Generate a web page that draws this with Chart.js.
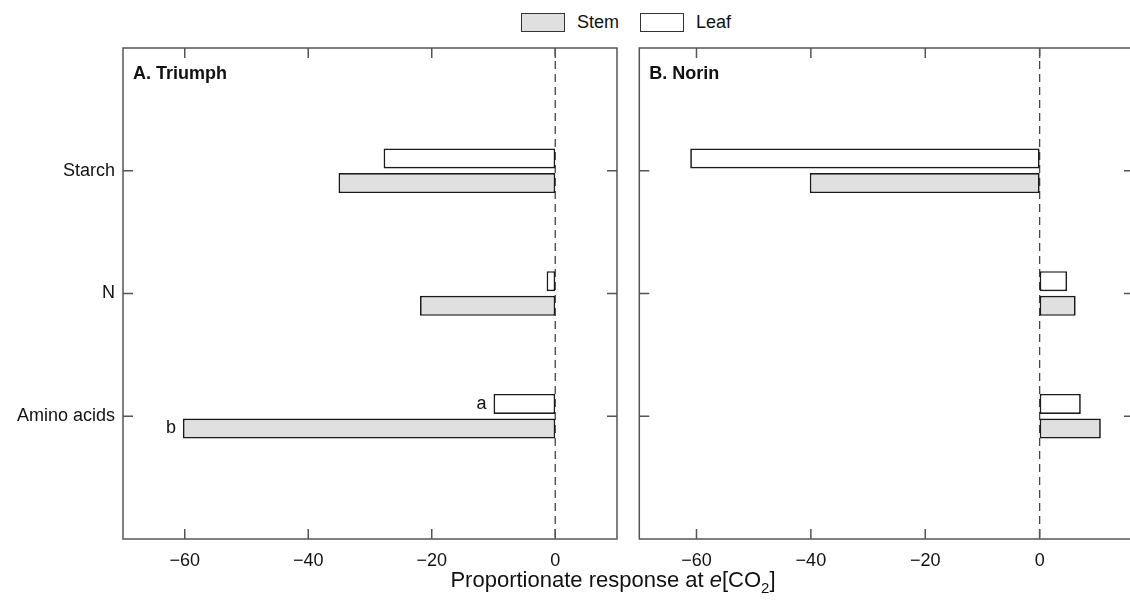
<!DOCTYPE html>
<html>
<head>
  <meta charset="UTF-8">
  <title>Proportionate response at e[CO2]</title>
  <script src="https://cdn.jsdelivr.net/npm/chart.js"></script>
  <style>
    body { margin: 0; width: 1130px; height: 606px; overflow: hidden; background: #fff;
           position: relative; font-family: "Liberation Sans", Arial, sans-serif; color: #111; }
    .panel { position: absolute; top: 0; height: 606px; }
    .box { position: absolute; top: 13px; width: 42px; height: 17px; border: 1.3px solid #333; }
    .lab { position: absolute; top: 12px; font-size: 18px; line-height: 20px; }
    #xtitle { position: absolute; left: 613px; top: 567px; transform: translateX(-50%);
              font-size: 22px; line-height: 26px; white-space: nowrap; }
    #xtitle .sub { font-size: 15px; position: relative; top: 6px; }
  </style>
</head>
<body>
  <!-- Legend -->
  <div class="box" style="left:521px; background:#e0e0e0;"></div>
  <div class="lab" style="left:577px;">Stem</div>
  <div class="box" style="left:640px; background:#fff;"></div>
  <div class="lab" style="left:696px;">Leaf</div>

  <!-- Panels -->
  <div class="panel" style="left:0; width:630px;"><canvas id="triumphChart"></canvas></div>
  <div class="panel" style="left:600px; width:540px;"><canvas id="norinChart"></canvas></div>

  <div id="xtitle">Proportionate response at <i>e</i>[CO<span class="sub">2</span>]</div>

  <script>
    // Data
    const categories = ['Starch', 'N', 'Amino acids'];
    const triumphStem = [-35.1, -21.9, -60.3];
    const triumphLeaf = [-27.8, -1.4, -10.0];
    const norinStem = [-40.2, 6.3, 10.7];
    const norinLeaf = [-61.1, 4.8, 7.2];
    const triumphStemNotes = ['', '', 'b'];
    const triumphLeafNotes = ['', '', 'a'];
    const xTicks = [-60, -40, -20, 0];

    // empty slots above and below the categories
    const labels = ['', ...categories, ''];
    const pad = arr => [null, ...arr, null];

    const FONT = '"Liberation Sans", Arial, sans-serif';

    // dashed zero line under the bars
    const zeroLine = {
      id: 'zeroLine',
      beforeDatasetsDraw(chart) {
        const { ctx, chartArea: a, scales: { x } } = chart;
        const x0 = x.getPixelForValue(0);
        ctx.save();
        ctx.strokeStyle = '#444';
        ctx.lineWidth = 1.3;
        ctx.setLineDash([8, 5]);
        ctx.beginPath();
        ctx.moveTo(x0, a.top);
        ctx.lineTo(x0, a.bottom);
        ctx.stroke();
        ctx.restore();
      }
    };

    // box frame with inward ticks, panel title and bar notes
    const frame = {
      id: 'frame',
      afterDatasetsDraw(chart, args, opts) {
        const { ctx, chartArea: a, scales: { x, y } } = chart;
        ctx.save();
        ctx.strokeStyle = '#555';
        ctx.lineWidth = 1.5;
        ctx.strokeRect(a.left, a.top, a.width, a.height);
        ctx.beginPath();
        x.ticks.forEach(t => {
          const px = x.getPixelForValue(t.value);
          ctx.moveTo(px, a.top); ctx.lineTo(px, a.top + 10);
          ctx.moveTo(px, a.bottom); ctx.lineTo(px, a.bottom - 10);
        });
        labels.forEach((l, i) => {
          if (!l) return;
          const py = y.getPixelForTick(i);
          ctx.moveTo(a.left, py); ctx.lineTo(a.left + 10, py);
          ctx.moveTo(a.right, py); ctx.lineTo(a.right - 10, py);
        });
        ctx.stroke();

        ctx.fillStyle = '#111';
        ctx.font = 'bold 18px ' + FONT;
        ctx.textBaseline = 'alphabetic';
        ctx.fillText(opts.title, a.left + 10, a.top + 31);

        ctx.font = '18px ' + FONT;
        ctx.textAlign = 'right';
        ctx.textBaseline = 'middle';
        (opts.notes || []).forEach((notes, d) => {
          const meta = chart.getDatasetMeta(d);
          notes.forEach((n, i) => {
            if (!n) return;
            const el = meta.data[i + 1];
            ctx.fillText(n, el.x - 7, el.y);
          });
        });
        ctx.restore();
      }
    };

    function makePanel(id, title, leaf, stem, notes, xMax, yWidth, showLabels, rightPad) {
      const ctx = document.getElementById(id).getContext('2d');
      return new Chart(ctx, {
        type: 'bar',
        data: {
          labels: labels,
          datasets: [
            { label: 'Leaf', data: pad(leaf), backgroundColor: '#ffffff',
              borderColor: '#1a1a1a', borderWidth: 1.7, borderSkipped: false },
            { label: 'Stem', data: pad(stem), backgroundColor: '#e0e0e0',
              borderColor: '#1a1a1a', borderWidth: 1.7, borderSkipped: false }
          ]
        },
        options: {
          indexAxis: 'y',
          responsive: true,
          maintainAspectRatio: false,
          animation: false,
          categoryPercentage: 0.4,
          barPercentage: 0.82,
          layout: { padding: { top: 48, right: rightPad, left: 0, bottom: 0 } },
          scales: {
            x: {
              min: -70, max: xMax,
              grid: { display: false, drawTicks: false },
              border: { display: false },
              afterBuildTicks: s => { s.ticks = xTicks.map(v => ({ value: v })); },
              ticks: {
                padding: 11, color: '#111',
                font: { family: FONT, size: 18 },
                callback: v => v < 0 ? '\u2212' + Math.abs(v) : String(v)
              },
              afterFit: s => { s.height = 67; }
            },
            y: {
              offset: false,
              grid: { display: false, drawTicks: false },
              border: { display: false },
              ticks: { display: showLabels, padding: 8, color: '#111',
                       font: { family: FONT, size: 18 } },
              afterFit: s => { s.width = yWidth; }
            }
          },
          plugins: {
            legend: { display: false },
            tooltip: { enabled: false },
            frame: { title: title, notes: notes }
          }
        },
        plugins: [zeroLine, frame]
      });
    }

    makePanel('triumphChart', 'A. Triumph', triumphLeaf, triumphStem,
              [triumphLeafNotes, triumphStemNotes], 10, 123, true, 13);
    makePanel('norinChart', 'B. Norin', norinLeaf, norinStem,
              [], 16.5, 39.3, false, 6);
  </script>
</body>
</html>
